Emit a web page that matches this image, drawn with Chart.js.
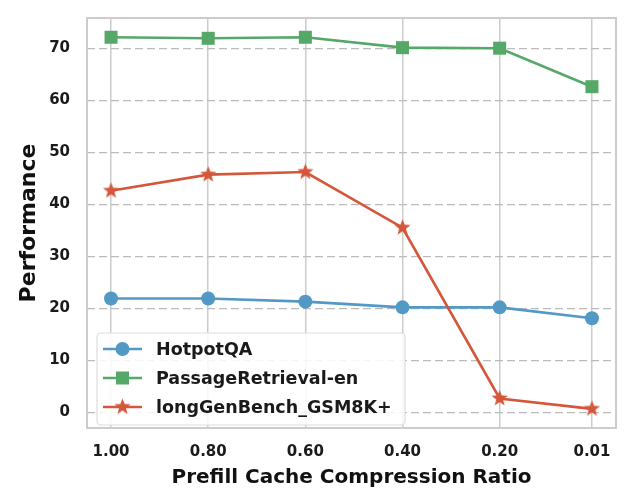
<!DOCTYPE html>
<html lang="en">
<head>
  <meta charset="UTF-8" />
  <title>Prefill Cache Compression Ratio vs Performance</title>
  <script src="https://cdn.jsdelivr.net/npm/chart.js"></script>
  <style>
    html, body { margin: 0; padding: 0; background: #fff; }
    #wrap { width: 634px; height: 500px; }
  </style>
</head>
<body>
<div id="wrap"><canvas id="perfChart" width="634" height="500"></canvas></div>

<script>
  // data
  const ratios = [1.00, 0.80, 0.60, 0.40, 0.20, 0.01];
  const ratioLabels = ["1.00", "0.80", "0.60", "0.40", "0.20", "0.01"];
  const yTicks = [0, 10, 20, 30, 40, 50, 60, 70];

  const hotpotQA = [21.9, 21.9, 21.3, 20.2, 20.2, 18.1];
  const passageRetrieval = [72.1, 71.9, 72.1, 70.1, 70.0, 62.6];
  const longGenBench = [42.6, 45.7, 46.2, 35.5, 2.7, 0.7];

  const seriesNames = ["HotpotQA", "PassageRetrieval-en", "longGenBench_GSM8K+"];
  const colors = ["#5399c6", "#55a868", "#d5573b"];

  const FONT = "'DejaVu Sans', sans-serif";

  // filled five point star, Chart.js only has the asterisk one
  function makeStar(color, outer, inner) {
    const c = document.createElement("canvas");
    const s = Math.ceil(outer * 2 + 2);
    c.width = s; c.height = s;
    const g = c.getContext("2d");
    g.beginPath();
    for (let i = 0; i < 10; i++) {
      const r = i % 2 === 0 ? outer : inner;
      const a = -Math.PI / 2 + i * Math.PI / 5;
      const px = s / 2 + r * Math.cos(a), py = s / 2 + r * Math.sin(a);
      if (i === 0) g.moveTo(px, py); else g.lineTo(px, py);
    }
    g.closePath();
    g.fillStyle = color;
    g.fill();
    return c;
  }
  const starImg = makeStar(colors[2], 8.5, 3.6);

  const toXY = vals => vals.map((v, i) => ({ x: ratios[i], y: v }));

  // frame around plot area
  const framePlugin = {
    id: "frame",
    beforeDatasetsDraw(chart) {
      const a = chart.chartArea, ctx = chart.ctx;
      ctx.save();
      ctx.strokeStyle = "#cccccc";
      ctx.lineWidth = 2;
      ctx.strokeRect(a.left, a.top, a.right - a.left, a.bottom - a.top);
      ctx.restore();
    }
  };

  // legend box inside the plot, lower left
  const insideLegend = {
    id: "insideLegend",
    afterDraw(chart) {
      const ctx = chart.ctx;
      const box = { x: 97, y: 333, w: 308, h: 92 };
      ctx.save();
      ctx.beginPath();
      ctx.roundRect(box.x, box.y, box.w, box.h, 4);
      ctx.fillStyle = "rgba(255,255,255,0.85)";
      ctx.fill();
      ctx.strokeStyle = "#dddddd";
      ctx.lineWidth = 1.2;
      ctx.stroke();

      chart.data.datasets.forEach((ds, i) => {
        const y = 349 + i * 29;
        ctx.beginPath();
        ctx.moveTo(103, y);
        ctx.lineTo(142, y);
        ctx.strokeStyle = ds.borderColor;
        ctx.lineWidth = ds.borderWidth;
        ctx.stroke();
        ctx.fillStyle = ds.backgroundColor;
        if (ds.pointStyle === starImg) {
          ctx.drawImage(starImg, 122.5 - starImg.width / 2, y - starImg.height / 2);
        } else {
          ctx.beginPath();
          if (ds.pointStyle === "circle") {
            ctx.arc(122.5, y, ds.pointRadius, 0, Math.PI * 2);
          } else {
            const h = ds.pointRadius * Math.SQRT1_2;
            ctx.rect(122.5 - h, y - h, h * 2, h * 2);
          }
          ctx.fill();
        }
        ctx.fillStyle = "#1a1a1a";
        ctx.font = "bold 17.5px " + FONT;
        ctx.textBaseline = "middle";
        ctx.textAlign = "left";
        ctx.fillText(seriesNames[i], 156, y + 1);
      });
      ctx.restore();
    }
  };

  const ctx = document.getElementById("perfChart").getContext("2d");
  const perfChart = new Chart(ctx, {
    type: "line",
    data: {
      datasets: [
        {
          label: seriesNames[0],
          data: toXY(hotpotQA),
          borderColor: colors[0],
          backgroundColor: colors[0],
          borderWidth: 2.6,
          pointStyle: "circle",
          pointRadius: 7,
          pointBorderWidth: 0,
          order: 3
        },
        {
          label: seriesNames[1],
          data: toXY(passageRetrieval),
          borderColor: colors[1],
          backgroundColor: colors[1],
          borderWidth: 2.6,
          pointStyle: "rect",
          pointRadius: 9.2,
          pointBorderWidth: 0,
          order: 2
        },
        {
          label: seriesNames[2],
          data: toXY(longGenBench),
          borderColor: colors[2],
          backgroundColor: colors[2],
          borderWidth: 2.6,
          pointStyle: starImg,
          pointRadius: 8,
          pointBorderWidth: 0,
          order: 1
        }
      ]
    },
    options: {
      responsive: false,
      animation: false,
      layout: { padding: { left: 0, right: 18, top: 18, bottom: 0 } },
      plugins: {
        legend: { display: false },
        tooltip: { enabled: false }
      },
      scales: {
        x: {
          type: "linear",
          reverse: true,
          min: -0.0395,
          max: 1.0495,
          afterBuildTicks: s => { s.ticks = ratios.map(v => ({ value: v })); },
          afterFit: s => { s.height = 72; },
          ticks: {
            autoSkip: false,
            maxRotation: 0,
            padding: 15,
            color: "#1a1a1a",
            font: { family: FONT, size: 15, weight: "bold" },
            callback: v => ratioLabels[ratios.indexOf(v)]
          },
          grid: { color: "#cccccc", lineWidth: 1.5, drawTicks: false },
          border: { display: false },
          title: {
            display: true,
            text: "Prefill Cache Compression Ratio",
            color: "#111",
            font: { family: FONT, size: 20, weight: "bold" },
            padding: { top: 0, bottom: 10 }
          }
        },
        y: {
          min: -2.98,
          max: 75.8,
          afterBuildTicks: s => { s.ticks = yTicks.map(v => ({ value: v })); },
          afterFit: s => { s.width = 87; s.paddingTop = 0; s.paddingBottom = 0; },
          ticks: {
            padding: 17,
            color: "#1a1a1a",
            font: { family: FONT, size: 15, weight: "bold" }
          },
          grid: { color: "#bbbbbb", lineWidth: 1.3, drawTicks: false },
          border: { display: false, dash: [8, 4] },
          title: {
            display: true,
            text: "Performance",
            color: "#111",
            font: { family: FONT, size: 22, weight: "bold" },
            padding: { top: 16, bottom: 0 }
          }
        }
      }
    },
    plugins: [framePlugin, insideLegend]
  });
</script>
</body>
</html>
